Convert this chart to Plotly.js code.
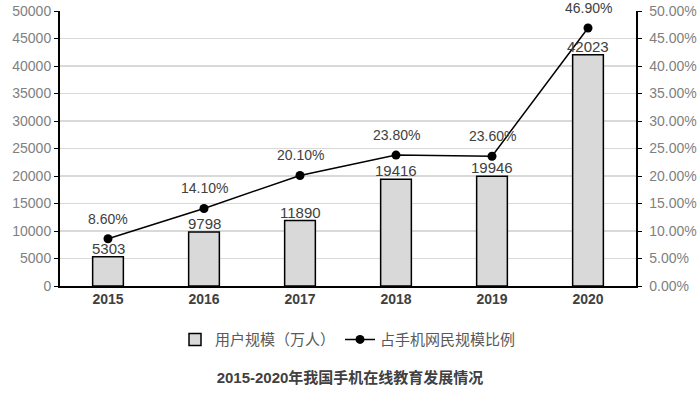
<!DOCTYPE html>
<html><head><meta charset="utf-8">
<script src="https://cdn.plot.ly/plotly-3.0.1.min.js"></script>
<style>html,body{margin:0;padding:0;background:#fff}#c{width:700px;height:398px}</style>
</head><body><div id="c"></div>
<script>
const years = ['2015','2016','2017','2018','2019','2020'];
const users = [5303, 9798, 11890, 19416, 19946, 42023];
const share = [8.6, 14.1, 20.1, 23.8, 23.6, 46.9];
const leftTicks = [0,5000,10000,15000,20000,25000,30000,35000,40000,45000,50000];
const rightTicks = [0,5,10,15,20,25,30,35,40,45,50];

const FONT = '"Liberation Sans", "Noto Sans CJK SC", Arial, sans-serif';
const bars = {
  type:'bar', x: years, y: users, name:'用户规模（万人）',
  marker:{color:'#d9d9d9', line:{color:'#000', width:1.5}},
  width:0.32
};
const line = {
  type:'scatter', mode:'lines+markers', x: years, y: share, yaxis:'y2',
  name:'占手机网民规模比例', cliponaxis:false,
  line:{color:'#000', width:1.5}, marker:{color:'#000', size:9}
};
const shareNotes = share.map((v,i)=>({
  x: i, y: v, xref:'x', yref:'y2', text: v.toFixed(2)+'%',
  showarrow:false, yshift:20, font:{family:FONT, size:14, color:'#404040'}
}));
const userNotes = users.map((v,i)=>({
  x: i, y: v, xref:'x', yref:'y', text: String(v), yanchor:'bottom',
  showarrow:false, yshift:-2, font:{family:FONT, size:15, color:'#404040'}
}));
const layout = {
  width:700, height:398,
  margin:{l:60, r:64, t:11, b:112},
  paper_bgcolor:'#fff', plot_bgcolor:'#fff',
  font:{family:FONT, color:'#404040'},
  showlegend:true,
  legend:{orientation:'h', x:0.5, xanchor:'center', y:-0.135, yanchor:'top',
    font:{family:FONT, size:15, color:'#595959'}},
  title:{text:'<b>2015-2020年我国手机在线教育发展情况</b>', x:0.5, xanchor:'center',
    yref:'container', y:0.05, yanchor:'middle',
    font:{family:FONT, size:15, color:'#404040'}},
  xaxis:{type:'category', range:[-0.5,5.5], autorange:false, showline:true, linecolor:'#000', linewidth:1.5, ticks:'',
    tickfont:{family:FONT, size:14, color:'#404040', weight:'bold'}, showgrid:false},
  yaxis:{range:[0,50000], autorange:false, tickvals:leftTicks, ticktext:leftTicks.map(String),
    showline:true, linecolor:'#000', linewidth:2, ticks:'outside', ticklen:4, tickcolor:'#000',
    gridcolor:'#d9d9d9', gridwidth:1.5, zeroline:false,
    tickfont:{family:FONT, size:14, color:'#7f7f7f'}},
  yaxis2:{overlaying:'y', side:'right', range:[0,50], autorange:false, tickvals:rightTicks,
    ticktext:rightTicks.map(v=>v.toFixed(2)+'%'),
    showline:true, linecolor:'#000', linewidth:1.5, ticks:'outside', ticklen:4, tickcolor:'#000',
    ticklabelstandoff:5,
    showgrid:false, zeroline:false,
    tickfont:{family:FONT, size:14, color:'#7f7f7f'}},
  annotations: userNotes.concat(shareNotes)
};
Plotly.newPlot('c', [bars, line], layout, {displayModeBar:false, staticPlot:true});
</script></body></html>
